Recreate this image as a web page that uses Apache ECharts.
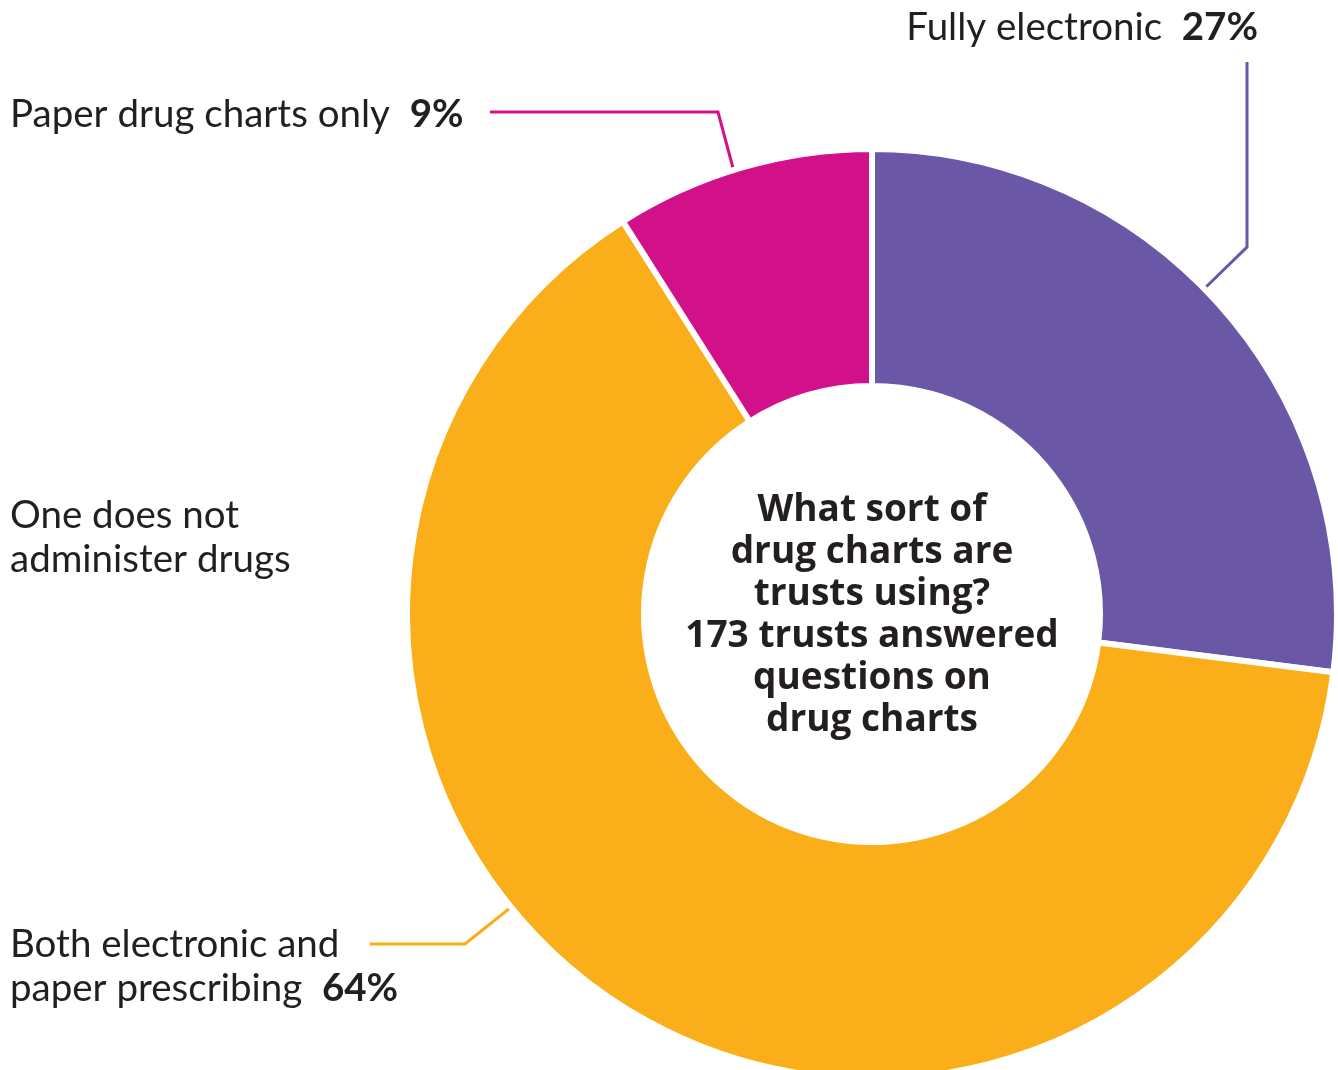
<!DOCTYPE html>
<html>
<head>
<meta charset="utf-8">
<script src="https://cdn.jsdelivr.net/npm/echarts@6/dist/echarts.min.js"></script>
<style>
html,body{margin:0;padding:0;background:#fff;}
#chart{width:1338px;height:1070px;}
</style>
</head>
<body>
<div id="chart"></div>
<script>
// Data
const categories = ['Fully electronic', 'Both electronic and\npaper prescribing', 'One does not\nadminister drugs', 'Paper drug charts only'];
const values = [27, 64, 0, 9];
const valueLabels = ['27%', '64%', '', '9%'];
const colors = ['#6A57A5', '#FAAE19', '#FAAE19', '#D1108A'];
const centerText = 'What sort of\ndrug charts are\ntrusts using?\n173 trusts answered\nquestions on\ndrug charts';

// Label placement (annotation layout only)
const labelPlacement = [
  {x: 1258, y: 28, align: 'right', line: [[1206, 287], [1247, 247], [1247, 62]]},
  {x: 10, y: 967, align: 'left', line: [[510, 908], [465, 944], [370, 944]]},
  {x: 10, y: 538, align: 'left', line: null},
  {x: 10, y: 115, align: 'left', line: [[733, 168], [718, 112], [490, 112]]}
];

const chart = echarts.init(document.getElementById('chart'), null, {renderer: 'canvas'});
const fontFam = 'Lato, "Noto Sans", sans-serif';

const option = {
  animation: false,
  backgroundColor: '#ffffff',
  series: [{
    type: 'pie',
    center: ['872px', '614px'],
    radius: [228, 465],
    startAngle: 90,
    clockwise: true,
    avoidLabelOverlap: false,
    silent: true,
    itemStyle: {borderColor: '#ffffff', borderWidth: 6},
    data: categories.map((c, i) => ({
      name: c,
      value: values[i],
      itemStyle: {color: colors[i], borderColor: '#ffffff', borderWidth: values[i] === 0 ? 0 : 6},
      labelLine: {show: labelPlacement[i].line != null, lineStyle: {color: colors[i], width: 3}}
    })),
    label: {
      show: true,
      position: 'outside',
      formatter: function (p) {
        const i = p.dataIndex;
        const lines = categories[i].split('\n');
        if (!valueLabels[i]) return lines.map(l => '{n|' + l + '}').join('\n');
        const last = lines.pop();
        return lines.map(l => '{n|' + l + '}').concat(['{n|' + last + '  }{v|' + valueLabels[i] + '}']).join('\n');
      },
      rich: {
        n: {fontFamily: fontFam, fontSize: 38.5, color: '#231F20', lineHeight: 44},
        v: {fontFamily: fontFam, fontSize: 38.5, fontWeight: 'bold', color: '#231F20', lineHeight: 44}
      }
    },
    labelLine: {show: true, length: 10, length2: 10, lineStyle: {width: 3}},
    labelLayout: function (params) {
      const lp = labelPlacement[params.dataIndex];
      const out = {x: lp.x, y: lp.y, align: lp.align, verticalAlign: 'middle', hideOverlap: false, moveOverlap: null};
      if (lp.line) out.labelLinePoints = lp.line;
      return out;
    }
  }],
  graphic: [{
    type: 'text',
    x: 872,
    y: 489,
    silent: true,
    style: {
      text: centerText,
      align: 'center',
      verticalAlign: 'top',
      fontFamily: '"Open Sans", Lato, sans-serif',
      fontSize: 37,
      fontWeight: 'bold',
      lineHeight: 42,
      fill: '#231F20'
    }
  }]
};
chart.setOption(option);
</script>
</body>
</html>
